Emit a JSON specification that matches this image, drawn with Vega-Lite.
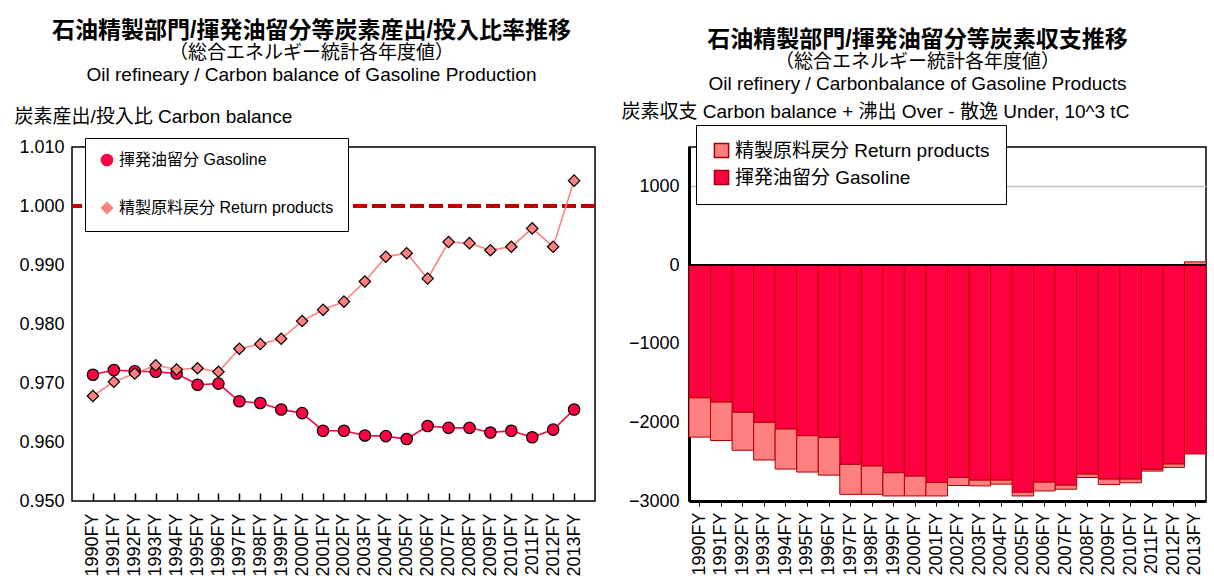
{
  "$schema": "https://vega.github.io/schema/vega-lite/v6.json",
  "background": "white",
  "padding": {"left": 13, "top": 19, "right": 0, "bottom": 0},
  "bounds": "flush",
  "spacing": 94,
  "config": {
    "font": "Liberation Sans, Noto Sans CJK JP",
    "axis": {"labelColor": "#000", "titleColor": "#000"},
    "legend": {"labelColor": "#000"},
    "title": {"color": "#000", "subtitleColor": "#000"}
  },
  "resolve": {
    "scale": {"color": "independent", "shape": "independent", "stroke": "independent"},
    "legend": {"color": "independent", "shape": "independent", "stroke": "independent"}
  },
  "datasets": {
    "d": [
      {"year": "1990FY", "series": "揮発油留分 Gasoline", "ratio": 0.9714, "balance": -1688},
      {"year": "1991FY", "series": "揮発油留分 Gasoline", "ratio": 0.9722, "balance": -1743},
      {"year": "1992FY", "series": "揮発油留分 Gasoline", "ratio": 0.9720, "balance": -1872},
      {"year": "1993FY", "series": "揮発油留分 Gasoline", "ratio": 0.9719, "balance": -2000},
      {"year": "1994FY", "series": "揮発油留分 Gasoline", "ratio": 0.9716, "balance": -2085},
      {"year": "1995FY", "series": "揮発油留分 Gasoline", "ratio": 0.9697, "balance": -2171},
      {"year": "1996FY", "series": "揮発油留分 Gasoline", "ratio": 0.9699, "balance": -2192},
      {"year": "1997FY", "series": "揮発油留分 Gasoline", "ratio": 0.9669, "balance": -2534},
      {"year": "1998FY", "series": "揮発油留分 Gasoline", "ratio": 0.9666, "balance": -2556},
      {"year": "1999FY", "series": "揮発油留分 Gasoline", "ratio": 0.9655, "balance": -2641},
      {"year": "2000FY", "series": "揮発油留分 Gasoline", "ratio": 0.9649, "balance": -2684},
      {"year": "2001FY", "series": "揮発油留分 Gasoline", "ratio": 0.9619, "balance": -2765},
      {"year": "2002FY", "series": "揮発油留分 Gasoline", "ratio": 0.9619, "balance": -2701},
      {"year": "2003FY", "series": "揮発油留分 Gasoline", "ratio": 0.9611, "balance": -2735},
      {"year": "2004FY", "series": "揮発油留分 Gasoline", "ratio": 0.9610, "balance": -2735},
      {"year": "2005FY", "series": "揮発油留分 Gasoline", "ratio": 0.9605, "balance": -2889},
      {"year": "2006FY", "series": "揮発油留分 Gasoline", "ratio": 0.9627, "balance": -2761},
      {"year": "2007FY", "series": "揮発油留分 Gasoline", "ratio": 0.9624, "balance": -2799},
      {"year": "2008FY", "series": "揮発油留分 Gasoline", "ratio": 0.9624, "balance": -2658},
      {"year": "2009FY", "series": "揮発油留分 Gasoline", "ratio": 0.9616, "balance": -2722},
      {"year": "2010FY", "series": "揮発油留分 Gasoline", "ratio": 0.9619, "balance": -2722},
      {"year": "2011FY", "series": "揮発油留分 Gasoline", "ratio": 0.9608, "balance": -2598},
      {"year": "2012FY", "series": "揮発油留分 Gasoline", "ratio": 0.9621, "balance": -2530},
      {"year": "2013FY", "series": "揮発油留分 Gasoline", "ratio": 0.9655, "balance": -2402},
      {"year": "1990FY", "series": "精製原料戻分 Return products", "ratio": 0.9678, "balance": -500},
      {"year": "1991FY", "series": "精製原料戻分 Return products", "ratio": 0.9702, "balance": -488},
      {"year": "1992FY", "series": "精製原料戻分 Return products", "ratio": 0.9716, "balance": -483},
      {"year": "1993FY", "series": "精製原料戻分 Return products", "ratio": 0.9730, "balance": -479},
      {"year": "1994FY", "series": "精製原料戻分 Return products", "ratio": 0.9723, "balance": -509},
      {"year": "1995FY", "series": "精製原料戻分 Return products", "ratio": 0.9725, "balance": -461},
      {"year": "1996FY", "series": "精製原料戻分 Return products", "ratio": 0.9719, "balance": -479},
      {"year": "1997FY", "series": "精製原料戻分 Return products", "ratio": 0.9758, "balance": -381},
      {"year": "1998FY", "series": "精製原料戻分 Return products", "ratio": 0.9766, "balance": -359},
      {"year": "1999FY", "series": "精製原料戻分 Return products", "ratio": 0.9775, "balance": -295},
      {"year": "2000FY", "series": "精製原料戻分 Return products", "ratio": 0.9805, "balance": -252},
      {"year": "2001FY", "series": "精製原料戻分 Return products", "ratio": 0.9824, "balance": -171},
      {"year": "2002FY", "series": "精製原料戻分 Return products", "ratio": 0.9838, "balance": -102},
      {"year": "2003FY", "series": "精製原料戻分 Return products", "ratio": 0.9872, "balance": -73},
      {"year": "2004FY", "series": "精製原料戻分 Return products", "ratio": 0.9914, "balance": -51},
      {"year": "2005FY", "series": "精製原料戻分 Return products", "ratio": 0.9920, "balance": -47},
      {"year": "2006FY", "series": "精製原料戻分 Return products", "ratio": 0.9877, "balance": -111},
      {"year": "2007FY", "series": "精製原料戻分 Return products", "ratio": 0.9939, "balance": -51},
      {"year": "2008FY", "series": "精製原料戻分 Return products", "ratio": 0.9937, "balance": -43},
      {"year": "2009FY", "series": "精製原料戻分 Return products", "ratio": 0.9925, "balance": -69},
      {"year": "2010FY", "series": "精製原料戻分 Return products", "ratio": 0.9931, "balance": -47},
      {"year": "2011FY", "series": "精製原料戻分 Return products", "ratio": 0.9962, "balance": -22},
      {"year": "2012FY", "series": "精製原料戻分 Return products", "ratio": 0.9931, "balance": -43},
      {"year": "2013FY", "series": "精製原料戻分 Return products", "ratio": 1.0043, "balance": 40}
    ]
  },
  "data": {"name": "d"},
  "hconcat": [
    {
      "width": 523,
      "height": 354,
      "view": {"stroke": "#000", "strokeWidth": 1.5},
      "title": {
        "text": "石油精製部門/揮発油留分等炭素産出/投入比率推移",
        "subtitle": ["（総合エネルギー統計各年度値）", "Oil refineary / Carbon balance of Gasoline Production"],
        "anchor": "middle",
        "frame": "group",
        "dx": -22,
        "offset": 22,
        "fontSize": 23,
        "fontWeight": "bold",
        "subtitleFontSize": 19,
        "subtitleLineHeight": 22,
        "subtitlePadding": 1
      },
      "layer": [
        {
          "mark": {"type": "rule", "color": "#C00000", "strokeWidth": 4, "strokeDash": [14, 5]},
          "encoding": {
            "y": {"datum": 1, "type": "quantitative", "scale": {"domain": [0.95, 1.01], "zero": false, "nice": false}}
          }
        },
        {
          "mark": {"type": "line", "strokeWidth": 1.6},
          "encoding": {
            "x": {"field": "year", "type": "ordinal", "scale": {"type": "point", "padding": 1.27},
              "axis": {"title": null, "labelAngle": -90, "labelFontSize": 18, "labelPadding": 12, "offset": -8, "tickSize": 8, "tickColor": "#000", "tickWidth": 1.5, "domain": false, "grid": false}},
            "y": {"field": "ratio", "type": "quantitative", "scale": {"domain": [0.95, 1.01], "zero": false, "nice": false},
              "axis": {"values": [0.95, 0.96, 0.97, 0.98, 0.99, 1.0, 1.01], "format": ".3f", "title": "炭素産出/投入比 Carbon balance", "titleAngle": 0, "titleAlign": "left", "titleBaseline": "middle", "titleX": -58, "titleY": -31, "titleFontSize": 19, "titleFontWeight": "normal", "labelFontSize": 18, "labelPadding": 8, "ticks": false, "domain": false, "gridColor": "#BFBFBF", "gridWidth": 1.5}},
            "color": {"field": "series", "type": "nominal", "scale": {"domain": ["揮発油留分 Gasoline", "精製原料戻分 Return products"], "range": ["#FF0040", "#FF8080"]},
              "legend": {"title": null, "orient": "none", "legendX": 13, "legendY": -9, "fillColor": "#fff", "strokeColor": "#000", "padding": 14, "rowPadding": 30, "labelFontSize": 16, "labelLimit": 400, "symbolSize": 130, "symbolStrokeColor": "#000", "symbolStrokeWidth": 1.2}}
          }
        },
        {
          "mark": {"type": "point", "filled": true, "size": 130, "stroke": "#000", "strokeWidth": 1.2, "opacity": 1},
          "encoding": {
            "x": {"field": "year", "type": "ordinal", "scale": {"type": "point", "padding": 1.27}},
            "y": {"field": "ratio", "type": "quantitative", "scale": {"domain": [0.95, 1.01], "zero": false, "nice": false}},
            "color": {"field": "series", "type": "nominal", "scale": {"domain": ["揮発油留分 Gasoline", "精製原料戻分 Return products"], "range": ["#FF0040", "#FF8080"]}},
            "shape": {"field": "series", "type": "nominal", "scale": {"domain": ["揮発油留分 Gasoline", "精製原料戻分 Return products"], "range": ["circle", "diamond"]}}
          }
        }
      ]
    },
    {
      "width": 517,
      "height": 354,
      "view": {"stroke": "#000", "strokeWidth": 1.5},
      "title": {
        "text": "石油精製部門/揮発油留分等炭素収支推移",
        "subtitle": ["（総合エネルギー統計各年度値）", "Oil refinery / Carbonbalance of Gasoline Products"],
        "anchor": "middle",
        "frame": "group",
        "dx": -30,
        "offset": 8,
        "fontSize": 23,
        "fontWeight": "bold",
        "subtitleFontSize": 19,
        "subtitleLineHeight": 22,
        "subtitlePadding": 1
      },
      "layer": [
        {
          "mark": {"type": "bar", "strokeWidth": 1, "stroke": "#B00000"},
          "encoding": {
            "x": {"field": "year", "type": "ordinal", "scale": {"paddingInner": 0, "paddingOuter": 0},
              "axis": {"title": null, "labelAngle": -90, "labelFontSize": 18, "labelPadding": 6, "tickSize": 5, "tickColor": "#000", "domainColor": "#000", "domainWidth": 3, "grid": false}},
            "y": {"field": "balance", "type": "quantitative", "stack": "zero", "scale": {"domain": [-3000, 1500], "nice": false},
              "axis": {"values": [-3000, -2500, -2000, -1500, -1000, -500, 0, 500, 1000, 1500], "format": "d", "title": "炭素収支 Carbon balance  + 沸出 Over  - 散逸 Under, 10^3 tC", "titleAngle": 0, "titleAlign": "left", "titleBaseline": "middle", "titleX": -68, "titleY": -36, "titleFontSize": 19, "titleFontWeight": "normal", "labelFontSize": 18, "labelPadding": 10, "ticks": false, "domainColor": "#000", "domainWidth": 3, "gridColor": "#C0C0C0", "gridWidth": 1.5}},
            "color": {"field": "series", "type": "nominal", "scale": {"domain": ["精製原料戻分 Return products", "揮発油留分 Gasoline"], "range": ["#FF8080", "#FF0040"]},
              "legend": {"title": null, "orient": "none", "legendX": 7, "legendY": -22, "fillColor": "#fff", "strokeColor": "#000", "padding": 16, "rowPadding": 6, "labelFontSize": 19, "labelLimit": 400, "symbolType": "square", "symbolSize": 200, "symbolStrokeColor": "#A00000", "symbolStrokeWidth": 1.5}},
            "order": {"field": "series", "sort": "ascending"}
          }
        },
        {
          "mark": {"type": "rule", "color": "#000", "strokeWidth": 2},
          "encoding": {
            "y": {"datum": 0, "type": "quantitative"}
          }
        }
      ]
    }
  ]
}
